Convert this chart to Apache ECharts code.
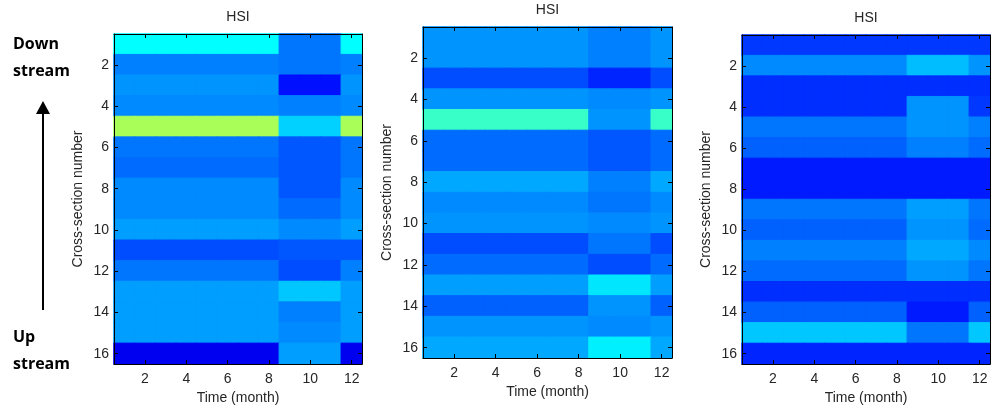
<!DOCTYPE html>
<html>
<head>
<meta charset="utf-8">
<script src="https://cdn.jsdelivr.net/npm/echarts@6/dist/echarts.min.js"></script>
<style>html,body{margin:0;padding:0;background:#fff}#c{width:993px;height:413px}</style>
</head>
<body>
<div id="c"></div>
<script>
// Months (x) and cross-sections (y)
var months = ['1','2','3','4','5','6','7','8','9','10','11','12'];
var sections = ['1','2','3','4','5','6','7','8','9','10','11','12','13','14','15','16'];

// HSI values (jet-colormap fraction 0..1), one row per cross-section, 12 months each
var hsiPanel1 = [
  [.375,.375,.375,.375,.375,.375,.375,.375,.24,.24,.24,.375],
  [.25,.25,.25,.25,.25,.25,.25,.25,.24,.24,.24,.25],
  [.27,.27,.27,.27,.27,.27,.27,.27,.14,.14,.14,.27],
  [.26,.26,.26,.26,.26,.26,.26,.26,.25,.25,.25,.26],
  [.54,.54,.54,.54,.54,.54,.54,.54,.33,.33,.33,.54],
  [.24,.24,.24,.24,.24,.24,.24,.24,.21,.21,.21,.24],
  [.23,.23,.23,.23,.23,.23,.23,.23,.21,.21,.21,.24],
  [.26,.26,.26,.26,.26,.26,.26,.26,.21,.21,.21,.26],
  [.26,.26,.26,.26,.26,.26,.26,.26,.23,.23,.23,.26],
  [.28,.28,.28,.28,.28,.28,.28,.28,.26,.26,.26,.28],
  [.20,.20,.20,.20,.20,.20,.20,.20,.21,.21,.21,.21],
  [.24,.24,.24,.24,.24,.24,.24,.24,.20,.20,.20,.25],
  [.28,.28,.28,.28,.28,.28,.28,.28,.32,.32,.32,.28],
  [.28,.28,.28,.28,.28,.28,.28,.28,.25,.25,.25,.28],
  [.28,.28,.28,.28,.28,.28,.28,.28,.26,.26,.26,.28],
  [.11,.11,.11,.11,.11,.11,.11,.11,.28,.28,.28,.11]
];
var hsiPanel2 = [
  [.27,.27,.27,.27,.27,.27,.27,.27,.25,.25,.25,.27],
  [.27,.27,.27,.27,.27,.27,.27,.27,.25,.25,.25,.27],
  [.20,.20,.20,.20,.20,.20,.20,.20,.16,.16,.16,.20],
  [.27,.27,.27,.27,.27,.27,.27,.27,.26,.26,.26,.27],
  [.43,.43,.43,.43,.43,.43,.43,.43,.27,.27,.27,.43],
  [.23,.23,.23,.23,.23,.23,.23,.23,.21,.21,.21,.23],
  [.23,.23,.23,.23,.23,.23,.23,.23,.21,.21,.21,.23],
  [.29,.29,.29,.29,.29,.29,.29,.29,.25,.25,.25,.29],
  [.26,.26,.26,.26,.26,.26,.26,.26,.24,.24,.24,.26],
  [.27,.27,.27,.27,.27,.27,.27,.27,.26,.26,.26,.27],
  [.20,.20,.20,.20,.20,.20,.20,.20,.24,.24,.24,.20],
  [.23,.23,.23,.23,.23,.23,.23,.23,.20,.20,.20,.23],
  [.28,.28,.28,.28,.28,.28,.28,.28,.35,.35,.35,.28],
  [.22,.22,.22,.22,.22,.22,.22,.22,.27,.27,.27,.22],
  [.27,.27,.27,.27,.27,.27,.27,.27,.26,.26,.26,.27],
  [.29,.29,.29,.29,.29,.29,.29,.29,.36,.36,.36,.29]
];
var hsiPanel3 = [
  [.18,.18,.18,.18,.18,.18,.18,.18,.18,.18,.18,.18],
  [.26,.26,.26,.26,.26,.26,.26,.26,.31,.31,.31,.27],
  [.17,.17,.17,.17,.17,.17,.17,.17,.17,.17,.17,.17],
  [.17,.17,.17,.17,.17,.17,.17,.17,.27,.27,.27,.18],
  [.24,.24,.24,.24,.24,.24,.24,.24,.27,.27,.27,.25],
  [.22,.22,.22,.22,.22,.22,.22,.22,.25,.25,.25,.23],
  [.15,.15,.15,.15,.15,.15,.15,.15,.15,.15,.15,.15],
  [.15,.15,.15,.15,.15,.15,.15,.15,.15,.15,.15,.15],
  [.24,.24,.24,.24,.24,.24,.24,.24,.28,.28,.28,.24],
  [.22,.22,.22,.22,.22,.22,.22,.22,.27,.27,.27,.23],
  [.25,.25,.25,.25,.25,.25,.25,.25,.29,.29,.29,.26],
  [.23,.23,.23,.23,.23,.23,.23,.23,.27,.27,.27,.24],
  [.17,.17,.17,.17,.17,.17,.17,.17,.17,.17,.17,.17],
  [.22,.22,.22,.22,.22,.22,.22,.22,.15,.15,.15,.22],
  [.32,.32,.32,.32,.32,.32,.32,.32,.24,.24,.24,.32],
  [.16,.16,.16,.16,.16,.16,.16,.16,.16,.16,.16,.16]
];
var panelTitles = ['HSI','HSI','HSI'];
var xName = 'Time (month)';
var yName = 'Cross-section number';

var jet = ['#000080','#0000ff','#0080ff','#00ffff','#80ff80','#ffff00','#ff8000','#ff0000','#800000'];
function hexToRgb(h){ return [parseInt(h.substr(1,2),16), parseInt(h.substr(3,2),16), parseInt(h.substr(5,2),16)]; }
function jetColor(v){
  var t = Math.max(0, Math.min(1, v)) * (jet.length - 1);
  var i = Math.min(jet.length - 2, Math.floor(t)), f = t - i;
  var a = hexToRgb(jet[i]), b = hexToRgb(jet[i+1]);
  return 'rgb(' + [0,1,2].map(function(k){ return Math.round(a[k] + (b[k]-a[k])*f); }).join(',') + ')';
}
var grids = [
  {left:114, top:34, width:248, height:330},
  {left:423, top:27, width:249, height:331},
  {left:742, top:35, width:248, height:329}
];
var panels = [hsiPanel1, hsiPanel2, hsiPanel3];
var FONT = "'Liberation Sans', Arial, sans-serif";
var TXT = '#262626';
function evenOnly(i){ return i % 2 === 1; }

var xAxes = [], yAxes = [], series = [], graphics = [];
panels.forEach(function(m, p){
  xAxes.push({
    type:'category', gridIndex:p, data:months, position:'bottom',
    name:xName, nameLocation:'middle', nameGap:27,
    nameTextStyle:{fontFamily:FONT, fontSize:14, color:TXT},
    axisLine:{show:true, lineStyle:{color:'#000', width:1}},
    axisTick:{show:true, inside:true, length:4, alignWithLabel:true, interval:evenOnly, lineStyle:{color:'#000'}},
    axisLabel:{interval:evenOnly, fontFamily:FONT, fontSize:14, color:TXT, margin:8},
    splitLine:{show:false}, z:5
  });
  xAxes.push({
    type:'category', gridIndex:p, data:months, position:'top',
    axisLine:{show:true, lineStyle:{color:'#000', width:1}},
    axisTick:{show:true, inside:true, length:4, alignWithLabel:true, interval:evenOnly, lineStyle:{color:'#000'}},
    axisLabel:{show:false}, splitLine:{show:false}, z:5
  });
  yAxes.push({
    type:'category', gridIndex:p, data:sections, inverse:true, position:'left',
    name:yName, nameLocation:'middle', nameGap:29, nameRotate:90,
    nameTextStyle:{fontFamily:FONT, fontSize:14, color:TXT},
    axisLine:{show:true, lineStyle:{color:'#000', width:1}},
    axisTick:{show:true, inside:true, length:4, alignWithLabel:true, interval:evenOnly, lineStyle:{color:'#000'}},
    axisLabel:{interval:evenOnly, fontFamily:FONT, fontSize:14, color:TXT, margin:5},
    splitLine:{show:false}, z:5
  });
  yAxes.push({
    type:'category', gridIndex:p, data:sections, inverse:true, position:'right',
    axisLine:{show:true, lineStyle:{color:'#000', width:1}},
    axisTick:{show:true, inside:true, length:4, alignWithLabel:true, interval:evenOnly, lineStyle:{color:'#000'}},
    axisLabel:{show:false}, splitLine:{show:false}, z:5
  });
  var data = [];
  m.forEach(function(row, yi){ row.forEach(function(v, xi){
    data.push({value:[xi, yi, v], itemStyle:{borderColor:jetColor(v), borderWidth:1}});
  }); });
  series.push({
    type:'heatmap', xAxisIndex:p*2, yAxisIndex:p*2, data:data,
    emphasis:{disabled:true}, progressive:0, z:1
  });
  var g = grids[p];
  graphics.push({
    type:'text', x:g.left + g.width/2, y:g.top - 17,
    style:{text:panelTitles[p], fontFamily:FONT, fontSize:14, fill:TXT, textAlign:'center', textVerticalAlign:'middle'}
  });
});

var SIDE = {fontFamily:"'Open Sans', Lato, sans-serif", fontSize:16, fontWeight:'bold', fill:'#000', textAlign:'left', textVerticalAlign:'middle'};
graphics.push({type:'text', x:13, y:44, style:Object.assign({text:'Down'}, SIDE)});
graphics.push({type:'text', x:13, y:71, style:Object.assign({text:'stream'}, SIDE)});
graphics.push({type:'text', x:13, y:337, style:Object.assign({text:'Up'}, SIDE)});
graphics.push({type:'text', x:13, y:364, style:Object.assign({text:'stream'}, SIDE)});
graphics.push({type:'line', shape:{x1:43, y1:310, x2:43, y2:110}, style:{stroke:'#000', lineWidth:2}});
graphics.push({type:'polygon', shape:{points:[[43,101],[36,114],[50,114]]}, style:{fill:'#000'}});

var chart = echarts.init(document.getElementById('c'), null, {renderer:'canvas'});
chart.setOption({
  backgroundColor:'#fff',
  animation:false,
  grid:grids,
  xAxis:xAxes,
  yAxis:yAxes,
  visualMap:{type:'continuous', show:false, min:0, max:1, seriesIndex:[0,1,2], inRange:{color:jet}},
  series:series,
  graphic:graphics
});
</script>
</body>
</html>
